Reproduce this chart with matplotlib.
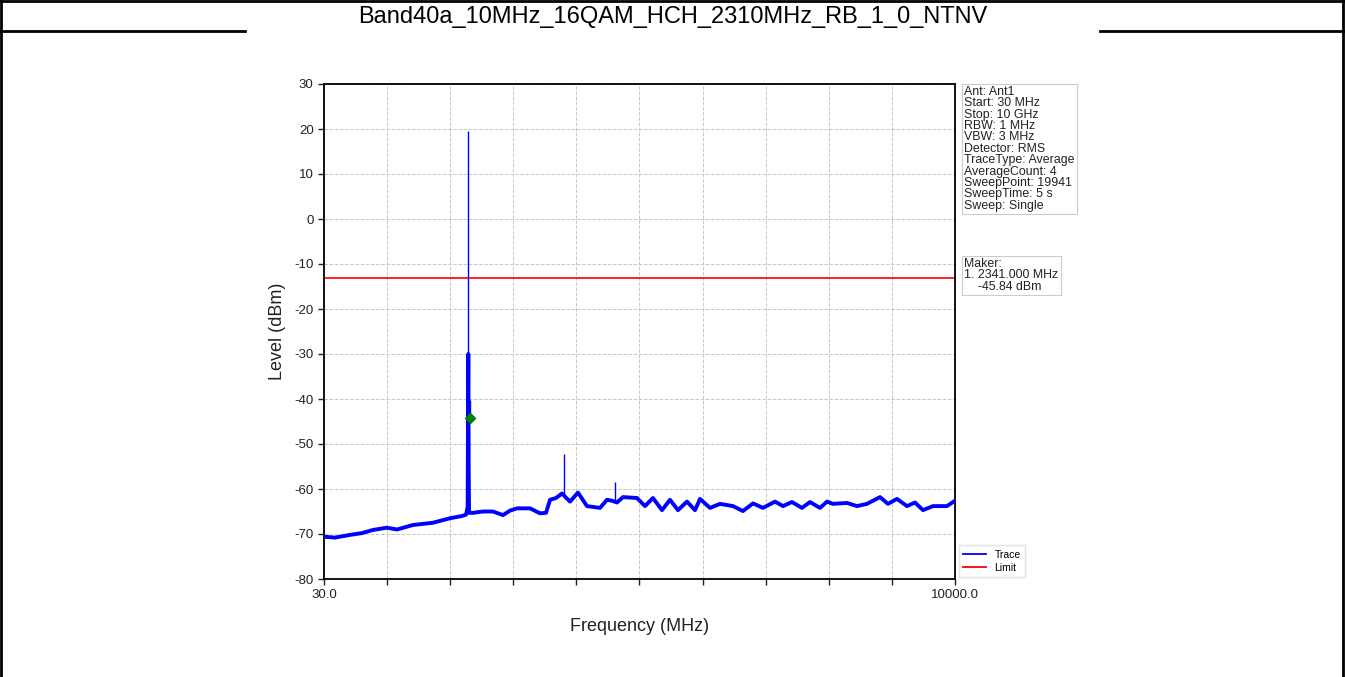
import matplotlib
matplotlib.use("Agg")
from matplotlib import pyplot as plt
from matplotlib.lines import Line2D

plt.rcParams["font.family"] = ["Liberation Sans", "DejaVu Sans"]
plt.rcParams["axes.unicode_minus"] = False

title = "Band40a_10MHz_16QAM_HCH_2310MHz_RB_1_0_NTNV"

# trace (MHz, dBm)
trace_freq = [30, 204, 441, 630, 804, 1025, 1183, 1436, 1752, 2021, 2210, 2274,
              2300, 2304, 2307, 2310, 2313, 2316, 2322,
              2384, 2542, 2700, 2858, 2969, 3080, 3285, 3443, 3538, 3601, 3696,
              3790, 3917, 4043, 4185, 4391, 4501, 4580, 4659, 4754, 4975, 5102,
              5228, 5370, 5497, 5623, 5765, 5892, 5971, 6129, 6287, 6492, 6650,
              6808, 6966, 7156, 7282, 7424, 7582, 7709, 7867, 7977, 8072, 8293,
              8451, 8609, 8815, 8941, 9083, 9241, 9368, 9494, 9652, 9873, 10000]
trace_level = [-70.6, -70.8, -70.2, -69.8, -69.1, -68.6, -69.0, -68.0, -67.5, -66.5, -66.0, -65.7,
               -64.0, -50.0, -38.0, -30.0, -40.0, -55.0, -65.3,
               -65.3, -65.0, -65.0, -65.8, -64.8, -64.3, -64.3, -65.4, -65.3, -62.4, -62.0,
               -61.0, -62.8, -60.8, -63.8, -64.2, -62.4, -62.6, -63.0, -61.8, -62.0, -63.8,
               -62.0, -64.7, -62.4, -64.7, -62.8, -64.7, -62.2, -64.2, -63.3, -63.8, -64.9,
               -63.2, -64.2, -62.8, -63.8, -62.9, -64.2, -62.9, -64.2, -62.8, -63.3, -63.1,
               -63.8, -63.3, -61.8, -63.3, -62.2, -63.8, -63.0, -64.7, -63.8, -63.8, -62.6]

# narrow spurs: frequency, base level, top level
spur_freq = [2310, 2341, 3820, 4630]
spur_base = [-30.0, -45.0, -61.5, -63.0]
spur_top = [19.5, -40.2, -52.2, -58.4]

limit_level = -13
marker_freq = 2341.0
marker_level = -44.2

x_ticks = [30 + 997 * k for k in range(11)]
x_labels = ["30.0"] + [""] * 9 + ["10000.0"]

info_text = ("Ant: Ant1\nStart: 30 MHz\nStop: 10 GHz\nRBW: 1 MHz\nVBW: 3 MHz\n"
             "Detector: RMS\nTraceType: Average\nAverageCount: 4\nSweepPoint: 19941\n"
             "SweepTime: 5 s\nSweep: Single")
marker_text = "Maker:\n1. 2341.000 MHz\n    -45.84 dBm"

W, H = 1345, 677
fig = plt.figure(figsize=(W / 100, H / 100), dpi=100)

# table frame
def px_line(x0, y0, x1, y1, lw=2):
    fig.add_artist(Line2D([x0 / W, x1 / W], [1 - y0 / H, 1 - y1 / H], color="black", lw=lw))

px_line(0, 1, W, 1)
px_line(1, 0, 1, H)
px_line(W - 2, 0, W - 2, H)
px_line(0, 31, 245, 31)
px_line(1100, 31, W, 31)
fig.text(0.5, 1 - 17.5 / H, title, ha="center", va="center", fontsize=17)

ax = fig.add_axes([324 / W, 1 - 579 / H, 631 / W, 495 / H])
ax.plot(trace_freq, trace_level, color="blue", lw=2.8, label="Trace", zorder=3)
ax.vlines(spur_freq, spur_base, spur_top, color="blue", lw=1, zorder=3)
ax.axhline(limit_level, color="red", lw=1.2, label="Limit", zorder=2)
ax.plot([marker_freq], [marker_level], marker="D", color="green", ms=5, ls="none", zorder=4)

ax.set_xlim(30, 10000)
ax.set_ylim(-80, 30)
ax.set_yticks(range(-80, 31, 10))
ax.set_xticks(x_ticks)
ax.set_xticklabels(x_labels)
ax.tick_params(labelsize=9.5, length=4, width=1, colors="#222222")
ax.grid(True, color="#c8c8c8", ls="--", lw=0.7)
for s in ax.spines.values():
    s.set_linewidth(1.3)
ax.set_xlabel("Frequency (MHz)", fontsize=13, labelpad=12, color="#222222")
ax.set_ylabel("Level (dBm)", fontsize=13, labelpad=6, color="#222222")

fig.text(964 / W, 1 - 86 / H, info_text, ha="left", va="top", fontsize=8.9, linespacing=0.93,
         color="#222222", bbox=dict(boxstyle="square,pad=0.2", fc="white", ec="#cccccc", lw=0.8))
fig.text(964 / W, 1 - 258 / H, marker_text, ha="left", va="top", fontsize=8.9, linespacing=0.93,
         color="#222222", bbox=dict(boxstyle="square,pad=0.2", fc="white", ec="#cccccc", lw=0.8))

leg = ax.legend(loc="lower left", bbox_to_anchor=(1.003, 0.0), fontsize=7.5, frameon=True,
                handlelength=2.2, borderaxespad=0.2, fancybox=False, edgecolor="#dddddd",
                labelspacing=0.3)
for h in leg.get_lines():
    h.set_linewidth(1.3)

fig.savefig("out.png", dpi=100)
